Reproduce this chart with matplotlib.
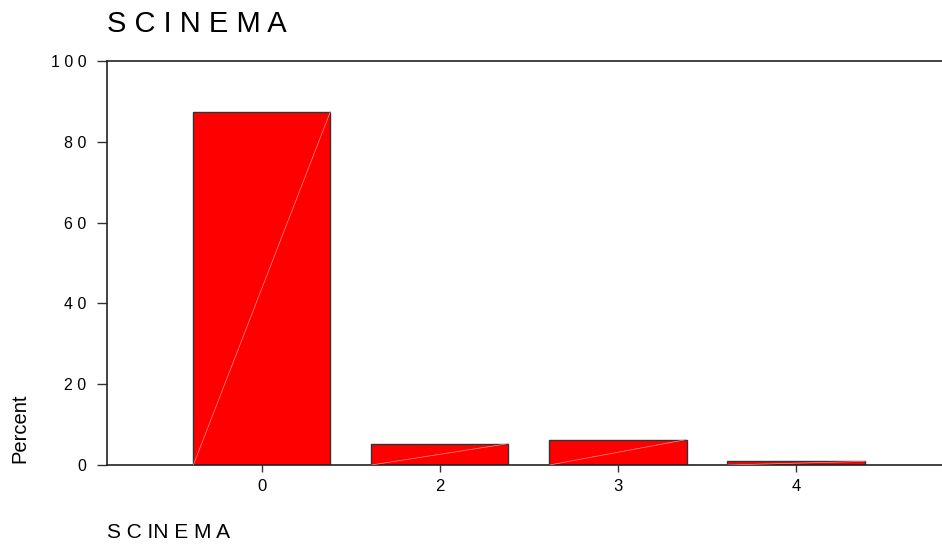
import matplotlib
matplotlib.use("Agg")
import matplotlib.pyplot as plt

categories = ["0", "2", "3", "4"]
percents = [87.5, 5.3, 6.3, 0.9]
y_ticks = [0, 20, 40, 60, 80, 100]
y_tick_labels = ["0", "2 0", "4 0", "6 0", "8 0", "1 0 0"]
title_text = "S C I N E M A"
xlabel_text = "S C IN E M A"
ylabel_text = "Percent"

plt.rcParams['font.family'] = ['Liberation Sans', 'DejaVu Sans']

fig = plt.figure(figsize=(9.42, 5.47), dpi=100)
ax = fig.add_axes([107/942, 1 - 465/547, 1 - 107/942, (465 - 61)/547])

pos = list(range(len(categories)))
width = 0.77
bars = ax.bar(pos, percents, width=width, color="#ff0000", edgecolor="#333333", linewidth=1.0, zorder=2)
for p, v in zip(pos, percents):
    ax.plot([p - width/2, p + width/2], [0, v], color="#ff9090", lw=0.5, zorder=3)

ax.set_xlim(-0.87, 3.82)
ax.set_ylim(0, 100)
ax.set_xticks(pos)
ax.set_xticklabels(categories, fontsize=12)
ax.set_yticks(y_ticks)
ax.set_yticklabels(y_tick_labels, fontsize=11.5)

for s in ["right"]:
    ax.spines[s].set_visible(False)
for s in ["top", "left", "bottom"]:
    ax.spines[s].set_color("#222222")
    ax.spines[s].set_linewidth(1.2)

ax.tick_params(axis="y", length=7, width=1.0, color="#333333", pad=8)
ax.tick_params(axis="x", length=5, width=1.0, color="#333333", pad=5)

fig.text(107/942, 1 - 24/547, title_text, fontsize=21, ha="left", va="center")
fig.text(107/942, 1 - 532/547, xlabel_text, fontsize=15, ha="left", va="center")
fig.text(20/942, 1 - 428/547, ylabel_text, fontsize=14.5, rotation=90, ha="center", va="center")

fig.savefig("out.png", dpi=100)
